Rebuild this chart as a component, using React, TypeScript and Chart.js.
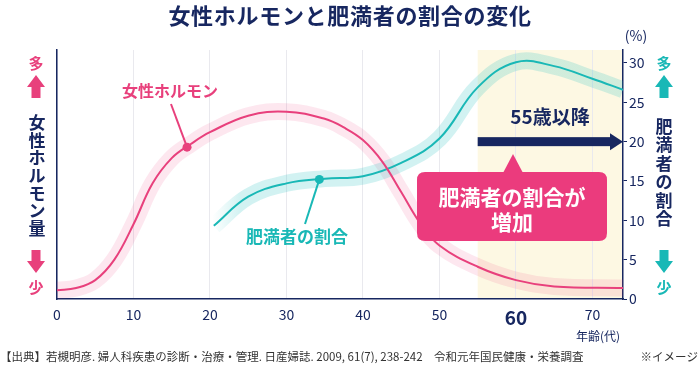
import React, { useEffect, useRef } from 'react';
import { Chart, registerables } from 'chart.js';

Chart.register(...registerables);

// ---- data ----
const hormoneAges = [0, 2.5, 5, 7.5, 10, 12.5, 15, 17.5, 20, 25, 30, 35, 37.5, 40, 42.5, 45, 47.5, 50, 55, 60, 65, 74];
const hormoneValues = [1.1, 1.4, 2.4, 5.0, 9.5, 14.7, 17.9, 19.7, 21.2, 23.3, 23.8, 22.9, 21.8, 20.2, 17.5, 13.6, 9.6, 6.8, 4.1, 2.4, 1.6, 1.4];
const obesityAges = [20.5, 25, 30, 35, 40, 45, 50, 55, 60, 65, 70, 74];
const obesityValues = [9.3, 13.0, 14.7, 15.3, 15.6, 17.3, 20.4, 26.9, 30.1, 29.6, 28.0, 26.6];
const hormoneMarker = { x: 17, y: 19.3 };
const obesityMarker = { x: 34.3, y: 15.2 };
const xTicks = [0, 10, 20, 30, 40, 50, 60, 70];
const yTicks = [0, 5, 10, 15, 20, 25, 30];
const highlightFrom = 55;
const arrowValue = 20;

const TITLE = '女性ホルモンと肥満者の割合の変化';
const LEFT_LABEL = '女性ホルモン量';
const RIGHT_LABEL = '肥満者の割合';
const HORMONE_LABEL = '女性ホルモン';
const OBESITY_LABEL = '肥満者の割合';
const ARROW_LABEL = '55歳以降';
const CALLOUT1 = '肥満者の割合が';
const CALLOUT2 = '増加';
const SOURCE = '【出典】若槻明彦. 婦人科疾患の診断・治療・管理. 日産婦誌. 2009, 61(7), 238-242　令和元年国民健康・栄養調査';
const NOTE = '※イメージ';
const UNIT = '(%)';
const X_TITLE = '年齢(代)';

const NAVY = '#172760';
const PINK = '#e8407c';
const TEAL = '#19b8b6';
const FONT = '"Noto Sans CJK JP", "Noto Sans", sans-serif';

function zip(xs: number[], ys: number[]) {
  return xs.map((x, i) => ({ x, y: ys[i] }));
}

function drawBlockArrow(ctx: CanvasRenderingContext2D, cx: number, top: number, bottom: number, up: boolean, color: string) {
  const headH = 12;
  const headW = 9;
  const shaftW = 4.5;
  ctx.fillStyle = color;
  ctx.beginPath();
  if (up) {
    ctx.moveTo(cx, top);
    ctx.lineTo(cx + headW, top + headH);
    ctx.lineTo(cx + shaftW, top + headH);
    ctx.lineTo(cx + shaftW, bottom);
    ctx.lineTo(cx - shaftW, bottom);
    ctx.lineTo(cx - shaftW, top + headH);
    ctx.lineTo(cx - headW, top + headH);
  } else {
    ctx.moveTo(cx, bottom);
    ctx.lineTo(cx + headW, bottom - headH);
    ctx.lineTo(cx + shaftW, bottom - headH);
    ctx.lineTo(cx + shaftW, top);
    ctx.lineTo(cx - shaftW, top);
    ctx.lineTo(cx - shaftW, bottom - headH);
    ctx.lineTo(cx - headW, bottom - headH);
  }
  ctx.closePath();
  ctx.fill();
}

function verticalText(ctx: CanvasRenderingContext2D, text: string, cx: number, top: number, pitch: number) {
  const chars = Array.from(text);
  chars.forEach((c, i) => {
    ctx.fillText(c, cx, top + pitch * i + pitch / 2);
  });
}

function roundRect(ctx: CanvasRenderingContext2D, x: number, y: number, w: number, h: number, r: number) {
  ctx.beginPath();
  ctx.moveTo(x + r, y);
  ctx.lineTo(x + w - r, y);
  ctx.quadraticCurveTo(x + w, y, x + w, y + r);
  ctx.lineTo(x + w, y + h - r);
  ctx.quadraticCurveTo(x + w, y + h, x + w - r, y + h);
  ctx.lineTo(x + r, y + h);
  ctx.quadraticCurveTo(x, y + h, x, y + h - r);
  ctx.lineTo(x, y + r);
  ctx.quadraticCurveTo(x, y, x + r, y);
  ctx.closePath();
}

const backgroundPlugin = {
  id: 'bgPlugin',
  beforeDraw(chart: any) {
    const { ctx, chartArea } = chart;
    const xs = chart.scales.x;
    ctx.save();
    ctx.fillStyle = '#ffffff';
    ctx.fillRect(0, 0, chart.width, chart.height);
    const x0 = xs.getPixelForValue(highlightFrom);
    ctx.fillStyle = '#fdf8e3';
    ctx.fillRect(x0, chartArea.top, chartArea.right - x0, chartArea.bottom - chartArea.top);
    ctx.restore();
  },
};

const overlayPlugin = {
  id: 'overlayPlugin',
  afterDraw(chart: any) {
    const { ctx, chartArea } = chart;
    const xs = chart.scales.x;
    const ys = chart.scales.y;
    ctx.save();
    ctx.textAlign = 'center';
    ctx.textBaseline = 'middle';

    // title
    ctx.fillStyle = NAVY;
    ctx.font = `bold 22px ${FONT}`;
    try {
      (ctx as any).letterSpacing = '0.7px';
    } catch (e) {}
    ctx.fillText(TITLE, 350, 16);
    try {
      (ctx as any).letterSpacing = '0px';
    } catch (e) {}

    // left side labels
    ctx.font = `bold 15px ${FONT}`;
    ctx.fillStyle = PINK;
    ctx.fillText('多', 36, 63);
    ctx.fillText('少', 36, 287);
    drawBlockArrow(ctx, 36, 75, 98, true, PINK);
    drawBlockArrow(ctx, 36, 250, 273, false, PINK);
    ctx.fillStyle = NAVY;
    ctx.font = `bold 17px ${FONT}`;
    verticalText(ctx, LEFT_LABEL, 37, 114, 17.6);

    // right side labels
    ctx.font = `bold 15px ${FONT}`;
    ctx.fillStyle = TEAL;
    ctx.fillText('多', 664, 63);
    ctx.fillText('少', 664, 287);
    drawBlockArrow(ctx, 664, 75, 98, true, TEAL);
    drawBlockArrow(ctx, 664, 250, 273, false, TEAL);
    ctx.fillStyle = NAVY;
    ctx.font = `bold 17px ${FONT}`;
    verticalText(ctx, RIGHT_LABEL, 664, 117, 18.5);

    // unit
    ctx.font = `14px ${FONT}`;
    ctx.fillText(UNIT, 636, 36);

    // x title
    ctx.font = `12px ${FONT}`;
    ctx.fillText(X_TITLE, 598, 336);

    // series labels and leaders
    const hx = xs.getPixelForValue(hormoneMarker.x);
    const hy = ys.getPixelForValue(hormoneMarker.y);
    ctx.strokeStyle = PINK;
    ctx.lineWidth = 2;
    ctx.beginPath();
    ctx.moveTo(171, 104);
    ctx.lineTo(hx, hy);
    ctx.stroke();
    ctx.fillStyle = PINK;
    ctx.font = `bold 16px ${FONT}`;
    ctx.fillText(HORMONE_LABEL, 170, 91);

    const ox = xs.getPixelForValue(obesityMarker.x);
    const oy = ys.getPixelForValue(obesityMarker.y);
    ctx.strokeStyle = TEAL;
    ctx.beginPath();
    ctx.moveTo(305, 224);
    ctx.lineTo(ox, oy);
    ctx.stroke();
    ctx.fillStyle = TEAL;
    ctx.font = `bold 17px ${FONT}`;
    ctx.fillText(OBESITY_LABEL, 297, 237);

    // 55+ arrow
    const ax0 = xs.getPixelForValue(highlightFrom);
    const ay = ys.getPixelForValue(arrowValue);
    const ax1 = chartArea.right;
    ctx.fillStyle = NAVY;
    ctx.fillRect(ax0, ay - 4.5, ax1 - 12 - ax0, 9);
    ctx.beginPath();
    ctx.moveTo(ax1, ay);
    ctx.lineTo(ax1 - 13, ay - 8.5);
    ctx.lineTo(ax1 - 13, ay + 8.5);
    ctx.closePath();
    ctx.fill();
    ctx.font = `bold 19px ${FONT}`;
    ctx.fillText(ARROW_LABEL, 550, 117);

    // callout
    ctx.fillStyle = '#eb3b7d';
    roundRect(ctx, 417, 172, 190, 69, 8);
    ctx.fill();
    ctx.beginPath();
    ctx.moveTo(503, 173);
    ctx.lineTo(513, 154);
    ctx.lineTo(523, 173);
    ctx.closePath();
    ctx.fill();
    ctx.fillStyle = '#ffffff';
    ctx.font = `bold 21px ${FONT}`;
    ctx.fillText(CALLOUT1, 512, 197);
    ctx.fillText(CALLOUT2, 512, 222);

    // footer
    ctx.fillStyle = '#333333';
    ctx.font = `11.5px ${FONT}`;
    ctx.textAlign = 'left';
    ctx.fillText(SOURCE, 0, 357, 584);
    ctx.textAlign = 'right';
    ctx.fillText(NOTE, 698, 357);

    ctx.restore();
  },
};

function bandGradient(rgb: string, alpha: number, fadeFrom?: number, fadeTo?: number) {
  return (context: any) => {
    const chart = context.chart;
    if (fadeFrom === undefined || !chart.chartArea || !chart.scales.x) return `rgba(${rgb},${alpha})`;
    const xs = chart.scales.x;
    const g = chart.ctx.createLinearGradient(xs.getPixelForValue(fadeFrom), 0, xs.getPixelForValue(fadeTo as number), 0);
    g.addColorStop(0, `rgba(${rgb},0)`);
    g.addColorStop(1, `rgba(${rgb},${alpha})`);
    return g;
  };
}

export default function App() {
  const canvasRef = useRef<HTMLCanvasElement | null>(null);

  useEffect(() => {
    if (!canvasRef.current) return;
    const lineCommon = { pointRadius: 0, tension: 0.4, yAxisID: 'y', clip: 0 };
    const chart = new Chart(canvasRef.current, {
      type: 'line',
      data: {
        datasets: [
          {
            label: 'hormoneMarker',
            data: [hormoneMarker],
            showLine: false,
            pointRadius: 4.5,
            pointBackgroundColor: PINK,
            pointBorderWidth: 0,
            order: 0,
            yAxisID: 'y',
          },
          {
            label: 'obesityMarker',
            data: [obesityMarker],
            showLine: false,
            pointRadius: 4.5,
            pointBackgroundColor: TEAL,
            pointBorderWidth: 0,
            order: 0,
            yAxisID: 'y',
          },
          {
            ...lineCommon,
            label: 'hormone',
            data: zip(hormoneAges, hormoneValues),
            borderColor: PINK,
            borderWidth: 2,
            order: 1,
          },
          {
            ...lineCommon,
            label: 'obesity',
            data: zip(obesityAges, obesityValues),
            borderColor: TEAL,
            borderWidth: 2,
            order: 1,
          },
          {
            ...lineCommon,
            label: 'obesityBand',
            data: zip(obesityAges, obesityValues),
            borderColor: bandGradient('30,190,190', 0.2, 20.3, 24),
            borderWidth: 17,
            order: 2,
          },
          {
            ...lineCommon,
            label: 'hormoneBand',
            data: zip(hormoneAges, hormoneValues),
            borderColor: 'rgba(236,70,130,0.13)',
            borderWidth: 17,
            order: 3,
          },
        ],
      } as any,
      options: {
        responsive: false,
        animation: false,
        devicePixelRatio: 1,
        events: [],
        layout: { padding: { top: 50, left: 0, right: 0, bottom: 0 } },
        plugins: {
          legend: { display: false },
          tooltip: { enabled: false },
          title: { display: false },
        },
        scales: {
          x: {
            type: 'linear',
            min: 0,
            max: 74,
            afterBuildTicks: (s: any) => {
              s.ticks = xTicks.map((v) => ({ value: v }));
            },
            afterFit: (s: any) => {
              s.height = 67;
            },
            grid: { color: '#e9e9ee', lineWidth: 1, drawTicks: false },
            border: { color: NAVY, width: 1.5 },
            ticks: {
              padding: 7,
              color: NAVY,
              maxRotation: 0,
              autoSkip: false,
              font: (c: any) =>
                c.tick && c.tick.value === 60
                  ? { family: FONT, size: 19, weight: 'bold' }
                  : { family: FONT, size: 14 },
            },
          },
          yL: {
            type: 'linear',
            position: 'left',
            min: 0,
            max: 31.65,
            afterFit: (s: any) => {
              s.width = 57;
            },
            ticks: { display: false },
            grid: { display: false, drawOnChartArea: false },
            border: { color: NAVY, width: 1.5 },
          },
          y: {
            type: 'linear',
            position: 'right',
            min: 0,
            max: 31.65,
            afterBuildTicks: (s: any) => {
              s.ticks = yTicks.map((v) => ({ value: v }));
            },
            afterFit: (s: any) => {
              s.width = 77;
            },
            grid: { drawOnChartArea: false, color: NAVY, tickLength: 4, lineWidth: 1 },
            border: { color: NAVY, width: 1.5 },
            ticks: { padding: 2, color: NAVY, font: { family: FONT, size: 14 } },
          },
        },
      } as any,
      plugins: [backgroundPlugin, overlayPlugin],
    });
    return () => chart.destroy();
  }, []);

  return (
    <div style={{ position: 'absolute', left: 0, top: 0, width: 700, height: 366 }}>
      <canvas ref={canvasRef} width={700} height={366} style={{ display: 'block', width: 700, height: 366 }} />
    </div>
  );
}
